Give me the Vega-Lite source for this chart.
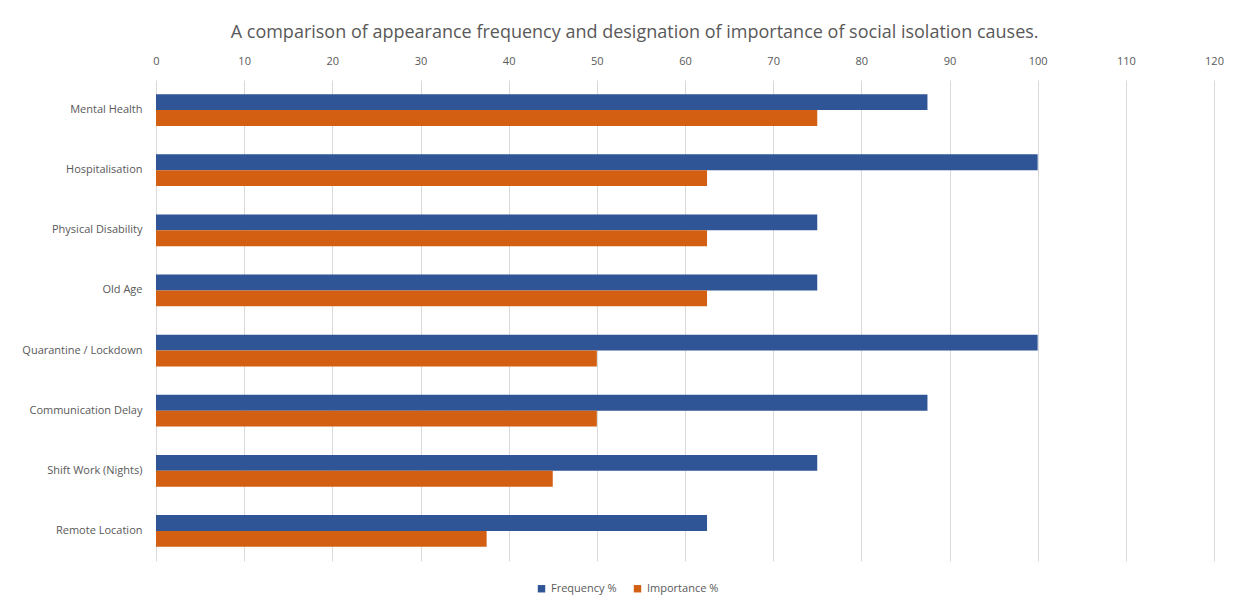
{
  "$schema": "https://vega.github.io/schema/vega-lite/v6.json",
  "autosize": "none",
  "width": 1058,
  "height": 481,
  "padding": {"left": 156, "top": 80, "right": 24, "bottom": 47},
  "background": "white",
  "title": {
    "text": "A comparison of appearance frequency and designation of importance of social isolation causes.",
    "anchor": "middle",
    "frame": "bounds",
    "fontSize": 18,
    "font": "Open Sans",
    "fontWeight": "normal",
    "color": "#595959",
    "offset": 13,
    "dx": 12
  },
  "data": {
    "values": [
      {"cause": "Mental Health", "series": "Frequency %", "value": 87.5},
      {"cause": "Mental Health", "series": "Importance %", "value": 75},
      {"cause": "Hospitalisation", "series": "Frequency %", "value": 100},
      {"cause": "Hospitalisation", "series": "Importance %", "value": 62.5},
      {"cause": "Physical Disability", "series": "Frequency %", "value": 75},
      {"cause": "Physical Disability", "series": "Importance %", "value": 62.5},
      {"cause": "Old Age", "series": "Frequency %", "value": 75},
      {"cause": "Old Age", "series": "Importance %", "value": 62.5},
      {"cause": "Quarantine / Lockdown", "series": "Frequency %", "value": 100},
      {"cause": "Quarantine / Lockdown", "series": "Importance %", "value": 50},
      {"cause": "Communication Delay", "series": "Frequency %", "value": 87.5},
      {"cause": "Communication Delay", "series": "Importance %", "value": 50},
      {"cause": "Shift Work (Nights)", "series": "Frequency %", "value": 75},
      {"cause": "Shift Work (Nights)", "series": "Importance %", "value": 45},
      {"cause": "Remote Location", "series": "Frequency %", "value": 62.5},
      {"cause": "Remote Location", "series": "Importance %", "value": 37.5}
    ]
  },
  "mark": {"type": "bar"},
  "encoding": {
    "y": {
      "field": "cause",
      "type": "nominal",
      "sort": null,
      "scale": {"paddingInner": 0.47, "paddingOuter": 0.235},
      "axis": {
        "title": null,
        "ticks": false,
        "domain": false,
        "labelPadding": 14,
        "labelFontSize": 11,
        "labelFont": "Open Sans",
        "labelColor": "#595959"
      }
    },
    "yOffset": {"field": "series", "type": "nominal", "scale": {"paddingInner": 0, "paddingOuter": 0}},
    "x": {
      "field": "value",
      "type": "quantitative",
      "scale": {"domain": [0, 120], "nice": false},
      "axis": {
        "orient": "top",
        "title": null,
        "values": [0, 10, 20, 30, 40, 50, 60, 70, 80, 90, 100, 110, 120],
        "ticks": false,
        "domain": false,
        "grid": true,
        "gridColor": "#D9D9D9",
        "labelFlush": false,
        "labelPadding": 14,
        "labelFontSize": 11,
        "labelFont": "Open Sans",
        "labelColor": "#595959"
      }
    },
    "color": {
      "field": "series",
      "type": "nominal",
      "scale": {"domain": ["Frequency %", "Importance %"], "range": ["#2F5597", "#D35F12"]},
      "legend": {
        "title": null,
        "orient": "none",
        "legendX": 380,
        "legendY": 503,
        "direction": "horizontal",
        "symbolType": "square",
        "symbolSize": 55,
        "labelOffset": 4,
        "labelFontSize": 11,
        "labelFont": "Open Sans",
        "labelColor": "#595959",
        "columnPadding": 15
      }
    }
  },
  "config": {
    "view": {"stroke": null}
  }
}
